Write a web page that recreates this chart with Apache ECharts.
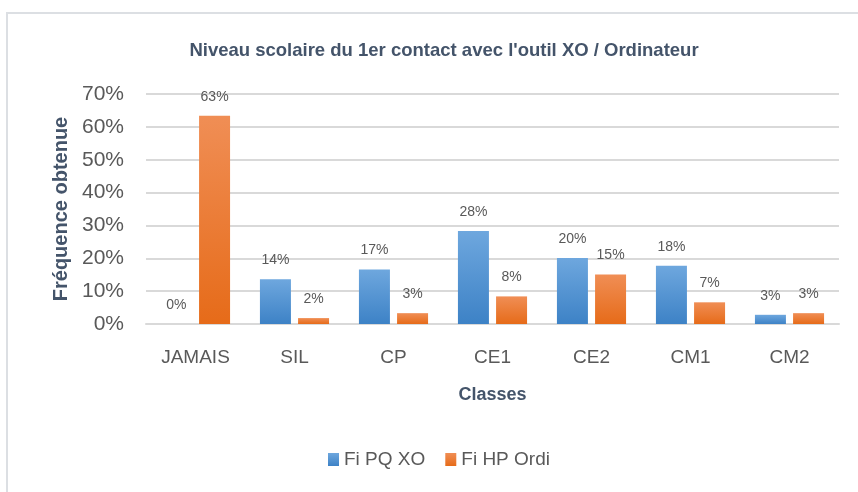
<!DOCTYPE html>
<html>
<head>
<meta charset="utf-8">
<script src="https://cdn.jsdelivr.net/npm/echarts@6/dist/echarts.min.js"></script>
<style>
  html, body { margin: 0; padding: 0; background: #fff; }
  #chart { width: 858px; height: 492px; }
</style>
</head>
<body>
<div id="chart"></div>
<script>
var classes = ["JAMAIS", "SIL", "CP", "CE1", "CE2", "CM1", "CM2"];
var fiPqXo = [0, 13.6, 16.6, 28.3, 20.1, 17.7, 2.8];
var fiHpOrdi = [63.4, 1.8, 3.3, 8.4, 15.1, 6.6, 3.3];
var yTicks = [0, 10, 20, 30, 40, 50, 60, 70];

var font = "'Liberation Sans', sans-serif";
var grey = "#595959";
var slate = "#44546a";

function grad(top, bottom) {
  return new echarts.graphic.LinearGradient(0, 0, 0, 1, [
    { offset: 0, color: top },
    { offset: 1, color: bottom }
  ]);
}

var chart = echarts.init(document.getElementById("chart"));
var option = {
  backgroundColor: "#fff",
  graphic: [{
    type: "rect",
    shape: { x: 7, y: 13, width: 900, height: 520 },
    style: { fill: "none", stroke: "#dcdfe3", lineWidth: 2 }
  }],
  title: {
    text: "Niveau scolaire du 1er contact avec l'outil XO / Ordinateur",
    left: 439, top: 36, textAlign: "center",
    textStyle: { fontFamily: font, fontSize: 18.5, fontWeight: "bold", color: slate }
  },
  legend: {
    bottom: 18, left: 323,
    itemWidth: 11, itemHeight: 13, itemGap: 20,
    icon: "rect",
    textStyle: { fontFamily: font, fontSize: 19, color: grey },
    data: ["Fi PQ XO", "Fi HP Ordi"]
  },
  grid: { left: 146, right: 19, top: 94, bottom: 168 },
  xAxis: {
    type: "category",
    data: classes,
    name: "Classes",
    nameLocation: "middle",
    nameGap: 62,
    nameTextStyle: { fontFamily: font, fontSize: 18, fontWeight: "bold", color: slate },
    axisLine: { lineStyle: { color: "#d9d9d9", width: 2 } },
    axisTick: { show: false },
    axisLabel: { fontFamily: font, fontSize: 19, color: grey, margin: 24 }
  },
  yAxis: {
    type: "value",
    min: yTicks[0], max: yTicks[yTicks.length - 1], interval: 10,
    name: "Fréquence obtenue",
    nameLocation: "middle",
    nameGap: 72,
    nameTextStyle: { fontFamily: font, fontSize: 20, fontWeight: "bold", color: slate },
    axisLabel: { fontFamily: font, fontSize: 21, color: grey, margin: 22, formatter: "{value}%" },
    splitLine: { lineStyle: { color: "#d9d9d9", width: 2 } },
    axisLine: { show: false },
    axisTick: { show: false }
  },
  series: [
    {
      name: "Fi PQ XO", type: "bar", data: fiPqXo,
      barWidth: 31, barGap: "23%",
      itemStyle: { color: grad("#6ea7de", "#3d82c6") },
      label: {
        show: true, position: "top", distance: 12,
        fontFamily: font, fontSize: 14, color: grey,
        formatter: function (p) { return Math.round(p.value) + "%"; }
      }
    },
    {
      name: "Fi HP Ordi", type: "bar", data: fiHpOrdi,
      barWidth: 31,
      itemStyle: { color: grad("#f08e55", "#e66b19") },
      label: {
        show: true, position: "top", distance: 12,
        fontFamily: font, fontSize: 14, color: grey,
        formatter: function (p) { return Math.round(p.value) + "%"; }
      }
    }
  ]
};
chart.setOption(option);
</script>
</body>
</html>
